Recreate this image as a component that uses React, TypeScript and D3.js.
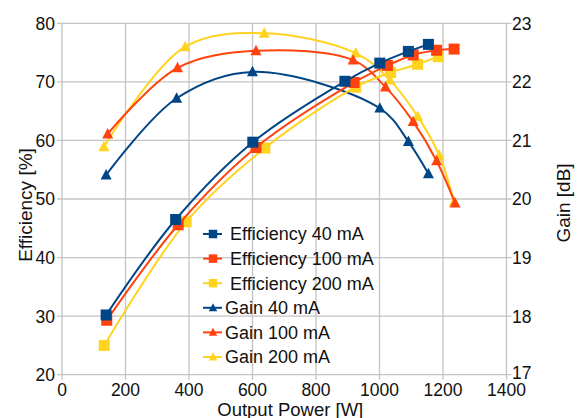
import * as d3 from "d3"

// output power [W] and values
const effPower40 = [139, 358, 601, 891, 1001, 1091, 1154]
const eff40 = [30.2, 46.5, 59.7, 70.1, 73.2, 75.2, 76.4]
const effPower100 = [141, 366, 611, 920, 1025, 1106, 1180, 1235]
const eff100 = [29.3, 45.6, 58.8, 69.9, 72.8, 74.6, 75.4, 75.6]
const effPower200 = [133, 391, 639, 925, 1035, 1120, 1185]
const eff200 = [25.0, 46.1, 58.7, 69.1, 71.6, 73.0, 74.3]

const gainPower40 = [139, 361, 600, 1001, 1091, 1154]
const gain40 = [20.41, 21.72, 22.17, 21.55, 20.98, 20.43]
const gainPower100 = [144, 364, 611, 917, 1019, 1106, 1180, 1238]
const gain100 = [21.11, 22.24, 22.53, 22.37, 21.91, 21.32, 20.65, 19.93]
const gainPower200 = [132, 388, 637, 925, 1033, 1120, 1188, 1235]
const gain200 = [20.89, 22.6, 22.83, 22.49, 22.03, 21.41, 20.75, 19.95]

const xTicks = [0, 200, 400, 600, 800, 1000, 1200, 1400]
const effTicks = [20, 30, 40, 50, 60, 70, 80]
const gainTicks = [17, 18, 19, 20, 21, 22, 23]

const blue = "#004586"
const orange = "#ff420e"
const yellow = "#ffd320"

const series = [
  { name: "Efficiency 40 mA", x: effPower40, y: eff40, axis: "left", color: blue, shape: "square" },
  { name: "Efficiency 100 mA", x: effPower100, y: eff100, axis: "left", color: orange, shape: "square" },
  { name: "Efficiency 200 mA", x: effPower200, y: eff200, axis: "left", color: yellow, shape: "square" },
  { name: "Gain 40 mA", x: gainPower40, y: gain40, axis: "right", color: blue, shape: "triangle" },
  { name: "Gain 100 mA", x: gainPower100, y: gain100, axis: "right", color: orange, shape: "triangle" },
  { name: "Gain 200 mA", x: gainPower200, y: gain200, axis: "right", color: yellow, shape: "triangle" },
]

const width = 579
const height = 418
const left = 62
const right = 506.5
const top = 23.3
const bottom = 374.7
const font = "'Liberation Sans', Arial, sans-serif"
const gridColor = "#c4c4c4"

const Marker = ({ shape, cx, cy, color, s }) =>
  shape === "square" ? (
    <rect x={cx - s / 2} y={cy - s / 2} width={s} height={s} fill={color} />
  ) : (
    <polygon
      points={`${cx},${cy - s * 0.55} ${cx - s / 2},${cy + s * 0.4} ${cx + s / 2},${cy + s * 0.4}`}
      fill={color}
    />
  )

export default function App() {
  const x = d3.scaleLinear().domain([0, 1400]).range([left, right])
  const yEff = d3.scaleLinear().domain([20, 80]).range([bottom, top])
  const yGain = d3.scaleLinear().domain([17, 23]).range([bottom, top])

  const line = (s) =>
    d3
      .line<number>()
      .x((d) => x(s.x[d]))
      .y((d) => (s.axis === "left" ? yEff : yGain)(s.y[d]))
      .curve(d3.curveCatmullRom.alpha(0.5))(d3.range(s.x.length))

  // later series sit underneath in the original
  const drawOrder = series.slice().reverse()

  return (
    <svg
      width={width}
      height={height}
      style={{ position: "absolute", left: 0, top: 0, fontFamily: font }}
    >
      <rect width={width} height={height} fill="#fff" />

      {/* grid */}
      {xTicks.map((t) => (
        <line key={"gx" + t} x1={x(t)} x2={x(t)} y1={top} y2={bottom + 5} stroke={gridColor} strokeWidth={1.3} />
      ))}
      {effTicks.map((t) => (
        <line key={"gy" + t} x1={left - 5} x2={right + 5} y1={yEff(t)} y2={yEff(t)} stroke={gridColor} strokeWidth={1.3} />
      ))}

      {/* tick labels */}
      {xTicks.map((t) => (
        <text key={"tx" + t} x={x(t)} y={396} fontSize={17.5} textAnchor="middle" fill="#111">
          {t}
        </text>
      ))}
      {effTicks.map((t) => (
        <text key={"te" + t} x={55} y={yEff(t)} dy="0.37em" fontSize={17.5} textAnchor="end" fill="#111">
          {t}
        </text>
      ))}
      {gainTicks.map((t) => (
        <text key={"tg" + t} x={512} y={yGain(t) - (t === 17 ? 2 : 0)} dy="0.37em" fontSize={17.5} fill="#111">
          {t}
        </text>
      ))}

      {/* axis titles */}
      <text x={(left + right) / 2 + 6} y={415.5} fontSize={18.5} textAnchor="middle" fill="#111">
        Output Power [W]
      </text>
      <text
        transform={`translate(32, ${(top + bottom) / 2 + 6}) rotate(-90)`}
        fontSize={19}
        textAnchor="middle"
        fill="#111"
      >
        Efficiency [%]
      </text>
      <text
        transform={`translate(570, ${(top + bottom) / 2 + 4}) rotate(-90)`}
        fontSize={19}
        textAnchor="middle"
        fill="#111"
      >
        Gain [dB]
      </text>

      {/* series */}
      {drawOrder.map((s) => {
        const y = s.axis === "left" ? yEff : yGain
        return (
          <g key={s.name}>
            <path d={line(s)} fill="none" stroke={s.color} strokeWidth={2} />
            {s.x.map((v, i) => (
              <Marker key={i} shape={s.shape} cx={x(v)} cy={y(s.y[i])} color={s.color} s={11} />
            ))}
          </g>
        )
      })}

      {/* legend */}
      {series.map((s, i) => {
        const cy = 234 + i * 24.6
        return (
          <g key={"lg" + s.name}>
            <line x1={203} x2={222} y1={cy} y2={cy} stroke={s.color} strokeWidth={2} />
            <Marker shape={s.shape} cx={213} cy={cy} color={s.color} s={8.5} />
            <text x={s.shape === "square" ? 230 : 225} y={cy} dy="0.36em" fontSize={18} fill="#111">
              {s.name}
            </text>
          </g>
        )
      })}
    </svg>
  )
}
